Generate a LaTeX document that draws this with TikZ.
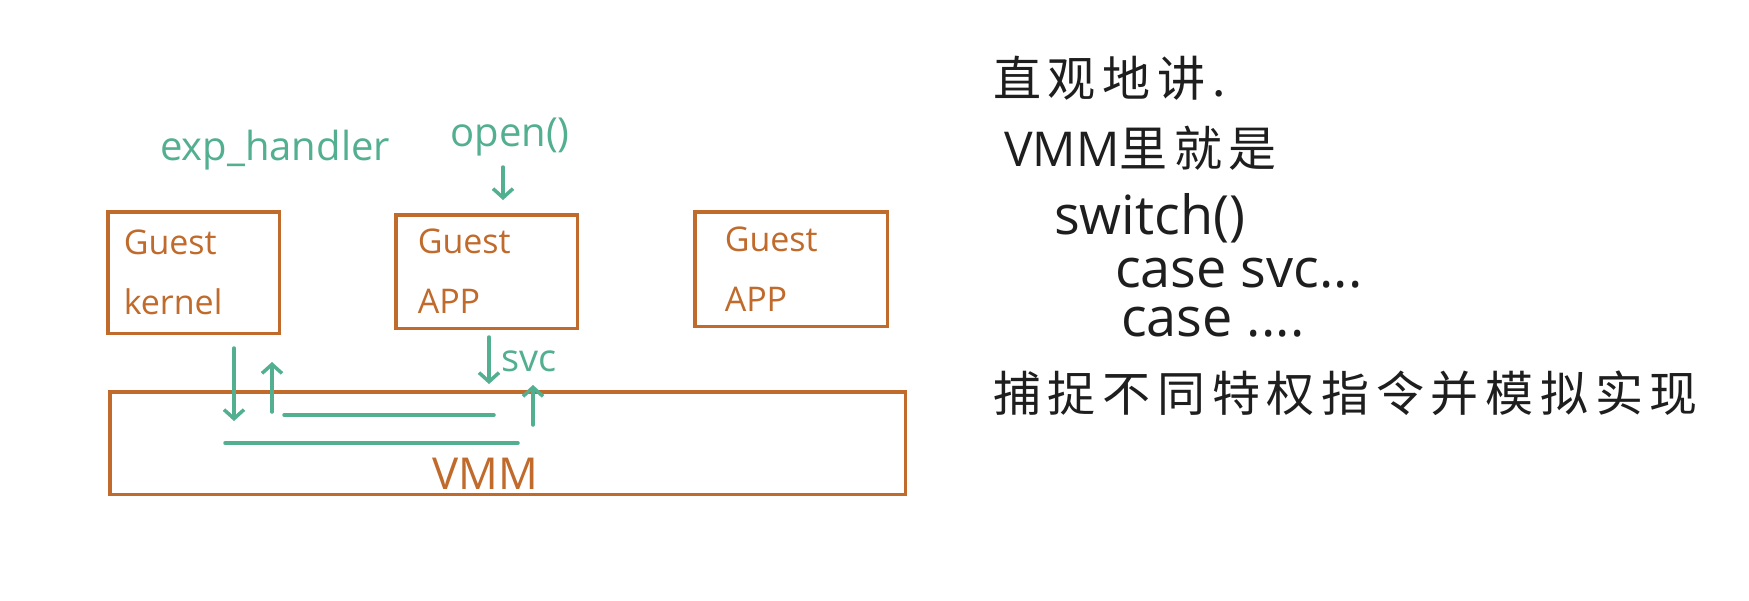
\documentclass[tikz,border=0pt]{standalone}
\usepackage{fontspec}
\setmainfont{Open Sans}
\newfontfamily\cjk[LetterSpace=14]{Noto Sans CJK SC}
\usetikzlibrary{positioning,arrows.meta}
\definecolor{boxorange}{RGB}{192,106,43}
\definecolor{inkgreen}{RGB}{82,175,144}
\definecolor{inkblack}{RGB}{30,30,30}

\begin{document}
\begin{tikzpicture}[x=1pt, y=-1pt,
    guest/.style={rectangle, draw=boxorange, line width=3.5pt, text=boxorange,
                  align=left, inner ysep=0pt, font=\fontsize{34}{60}\selectfont},
    vmmbox/.style={rectangle, draw=boxorange, line width=3.5pt,
                   minimum width=795.5pt, minimum height=102.5pt},
    otext/.style={text=boxorange, inner sep=0pt, font=\fontsize{44}{50}\selectfont},
    glabel/.style={text=inkgreen, inner sep=0pt, font=\fontsize{40}{46}\selectfont},
    note/.style={text=inkblack, anchor=west, inner sep=0pt, font=\fontsize{48}{56}\selectfont},
    code/.style={note, font=\fontsize{54}{60}\selectfont},
    garr/.style={draw=inkgreen, line width=3.5pt, line cap=round,
                 -{Straight Barb[length=9pt,width=20pt]}},
    gline/.style={draw=inkgreen, line width=3.5pt, line cap=round}]
    \path[use as bounding box, fill=white] (0,0) rectangle (1749,600);

    % guests and vmm
    \node[guest, minimum height=121.5pt, text width=139.5pt, inner xsep=16pt] (kernel) at (193.5,272.5) {Guest\\kernel};
    \node[guest, minimum height=113.5pt, text width=137.5pt, inner xsep=22pt] (app) at (486.5,271.5) {Guest\\APP};
    \node[guest, minimum height=114.5pt, text width=132.5pt, inner xsep=30pt] (app2) at (791,269) {Guest\\APP};
    \node[vmmbox] (vmm) at (507.5,443) {};
    \node[otext] (vmmtext) at (485,474) {VMM};

    % green notes
    \node[glabel] (exph) at (275,150) {exp\_handler};
    \node[glabel] (open) at (510,137) {open()};
    \coordinate (opentail) at (503,167); \coordinate (opentip) at (503,200);
    \draw[garr] (opentail) -- (opentip);

    \coordinate (kdown1) at (234,348); \coordinate (kdown2) at (234,421);
    \coordinate (kup1) at (272,412);   \coordinate (kup2) at (272,362);
    \coordinate (ret1) at (284,415);   \coordinate (ret2) at (494,415);
    \coordinate (exc1) at (225,443);   \coordinate (exc2) at (518,443);
    \coordinate (svc1) at (489,337);   \coordinate (svc2) at (489,384);
    \coordinate (aup1) at (533,425);   \coordinate (aup2) at (533,385);
    \draw[garr] (kdown1) -- (kdown2);
    \draw[garr] (kup1) -- (kup2);
    \draw[gline] (ret1) -- (ret2);
    \draw[gline] (exc1) -- (exc2);
    \draw[garr] (svc1) -- (svc2);
    \draw[garr] (aup1) -- (aup2);
    \node[glabel, font=\fontsize{38}{42}\selectfont, right=12pt of svc1, yshift=-24pt] (svc) {svc};

    % black notes on the right
    \node[note] (t1) at (993,78) {\cjk 直观地讲.};
    \node[note] (t2) at (1004,148) {VMM{\cjk 里就是}};
    \node[code] (t3) at (1054,218) {switch()};
    \node[code] (t4) at (1115,273) {case svc...};
    \node[code] (t5) at (1121,322) {case ....};
    \node[note] (t6) at (993,393) {\cjk 捕捉不同特权指令并模拟实现};
\end{tikzpicture}
\end{document}
